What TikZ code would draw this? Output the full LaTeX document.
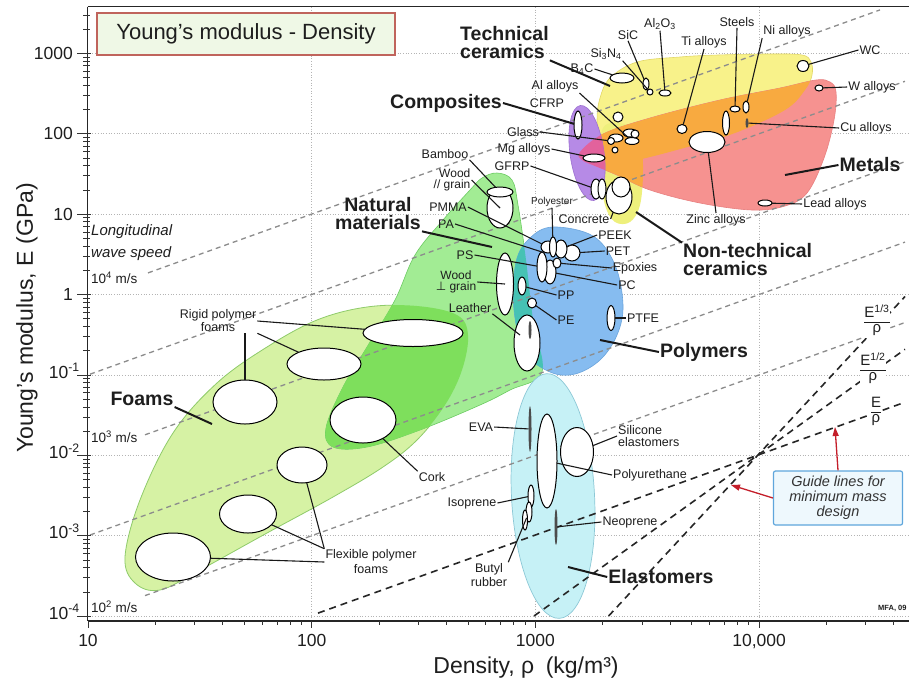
\documentclass[tikz,border=0pt]{standalone}
\usepackage{fontspec}
\setmainfont{Liberation Sans}
\newfontfamily\dejavu{DejaVu Sans}
\usetikzlibrary{shapes.geometric,arrows.meta,calc}
\renewcommand{\arraystretch}{1.0}
\definecolor{foamc}{HTML}{D6F2A4}
\definecolor{foaml}{HTML}{8FCB6A}
\definecolor{natc}{HTML}{A2EC94}
\definecolor{natl}{HTML}{6CCB62}
\definecolor{natover}{HTML}{7EDF5C}
\definecolor{polyc}{HTML}{86BCF0}
\definecolor{polyl}{HTML}{6AA4DC}
\definecolor{tealc}{HTML}{46C2B4}
\definecolor{elac}{HTML}{C6F1F6}
\definecolor{elal}{HTML}{8CC8D6}
\definecolor{cerc}{HTML}{F8F28A}
\definecolor{cerl}{HTML}{E2D868}
\definecolor{ntc}{HTML}{EEF07C}
\definecolor{metc}{HTML}{F69290}
\definecolor{metl}{HTML}{E88080}
\definecolor{orc}{HTML}{F8AA40}
\definecolor{compc}{HTML}{B68AE6}
\definecolor{compl}{HTML}{9C70D0}
\definecolor{pinkc}{HTML}{E2629C}
\definecolor{gridc}{HTML}{B4B4B4}
\definecolor{wavec}{HTML}{8C8C8C}
\definecolor{redarr}{HTML}{C41E2A}
\definecolor{boxl}{HTML}{5FA6DC}
\definecolor{boxf}{HTML}{EEF8FD}
\definecolor{titlel}{HTML}{C0645C}
\definecolor{titlef}{HTML}{EFF8E6}
\definecolor{txt}{HTML}{1E1E1E}
\newcommand{\mybub}[5][]{\node[bubst,minimum width={2*#4},minimum height={2*#5},#1] (#2) at (#3) {};}
\def\foamP{plot[smooth cycle,tension=0.6] coordinates {(125,557) (140,500) (173,433) (217,383) (267,347) (317,320) (367,307) (417,306) (457,315) (468,335) (462,370) (445,405) (417,440) (383,467) (333,497) (267,533) (200,570) (160,590) (135,583)}}
\def\natP{plot[smooth cycle,tension=0.6] coordinates {(497,173) (512,180) (518,205) (526,260) (533,320) (542,372) (510,390) (480,405) (420,430) (367,447) (333,447) (326,428) (343,387) (367,347) (395,300) (415,255) (443,220) (470,190) (482,178)}}
\def\polyP{plot[smooth cycle,tension=0.6] coordinates {(553,227) (593,236) (615,265) (623,305) (617,335) (600,360) (575,374) (550,372) (525,352) (514,310) (516,262) (530,238)}}
\def\cerP{plot[smooth cycle,tension=0.6] coordinates {(600,98) (610,78) (637,62) (680,57) (718,55) (770,54) (802,55) (811,62) (812,75) (805,90) (785,110) (735,133) (684,148) (637,160) (610,163) (600,145) (597,120)}}
\def\metP{plot[smooth cycle,tension=0.6] coordinates {(580,152) (603,134) (650,118) (720,100) (780,88) (816,80) (830,82) (836,92) (834,120) (824,158) (807,193) (785,206) (752,210) (700,203) (650,190) (617,175) (595,166) (582,160)}}
\def\ntP{plot[smooth cycle,tension=0.6] coordinates {(603,128) (625,124) (640,135) (643,170) (640,205) (630,222) (615,222) (605,205) (600,170)}}
\begin{document}
\begin{tikzpicture}[x=1pt,y=-1pt,
  gridst/.style={draw=gridc,line width=0.7pt,dotted},
  wavest/.style={draw=wavec,line width=1.3pt,dash pattern=on 5pt off 4pt},
  guidest/.style={draw=black!85,line width=1.6pt,dash pattern=on 7pt off 5pt},
  bubst/.style={ellipse,draw=black,fill=white,line width=1pt,inner sep=0pt,outer sep=0pt},
  barst/.style={draw=none,fill=black!70},
  ldr/.style={draw=black!90,line width=1.1pt},
  fldr/.style={draw=black!90,line width=2pt},
  sl/.style={font=\fontsize{12.5}{12}\selectfont,text=txt,inner sep=1pt},
  fam/.style={font=\bfseries\fontsize{19.5}{18}\selectfont,text=txt,inner sep=1pt},
  tl/.style={font=\fontsize{17.5}{18}\selectfont,text=txt,inner sep=0pt},
  wl/.style={font=\fontsize{13.5}{14}\selectfont,text=txt,inner sep=0pt},
  tickst/.style={draw=black!80,line width=0.8pt},
  axisst/.style={draw=black!85,line width=1.5pt},
  fracst/.style={fill=white,inner sep=0.5pt,text=txt,font=\fontsize{15}{15}\selectfont},
  redarrow/.style={draw=redarr,line width=1.3pt,-{Triangle[length=9pt,width=6pt]}}]
\useasboundingbox (0,0) rectangle (909,683);
\fill[white] (0,0) rectangle (909,683);
% grid
\foreach \gx in {311.7,535.4,759.1} \draw[gridst] (\gx,7) -- (\gx,621);
\foreach \gy in {53.3,133.7,214.1,294.5,374.9,455.3,535.7,616.1} \draw[gridst] (87,\gy) -- (909,\gy);
% regions
\filldraw[fill=foamc,draw=foaml,line width=0.8pt] \foamP;
\filldraw[fill=natc,draw=natl,line width=0.6pt] \natP;
\begin{scope}\clip \foamP; \fill[natover] \natP; \end{scope}
\filldraw[fill=polyc,draw=polyl,line width=0.6pt] \polyP;
\begin{scope}\clip \natP; \fill[tealc] \polyP; \end{scope}
\filldraw[fill=elac,draw=elal,line width=0.7pt,rotate around={3:(553,496)}] (553,496) ellipse [x radius=41.5pt,y radius=122.5pt];
\filldraw[fill=cerc,draw=cerl,line width=0.6pt] \cerP;
\fill[ntc] \ntP;
\filldraw[fill=metc,draw=metl,line width=0.6pt] \metP;
\begin{scope}\clip \metP; \fill[orc] \cerP; \fill[orc] \ntP; \end{scope}
\begin{scope}[rotate around={8:(587,153)}]
  \filldraw[fill=compc,draw=compl,line width=0.6pt] (587,153) ellipse [x radius=17pt,y radius=48pt];
\end{scope}
\begin{scope}\clip \metP;
  \begin{scope}[rotate around={8:(587,153)}]\fill[pinkc] (587,153) ellipse [x radius=17pt,y radius=48pt];\end{scope}
\end{scope}
% wave speed lines
\draw[wavest] (148,272.9) -- (880,9.9);
\draw[wavest] (90,374.2) -- (905,81.3);
\draw[wavest] (145,434.8) -- (905,161.7);
\draw[wavest] (90,535.0) -- (905,242.1);
\draw[wavest] (145,595.6) -- (905,322.5);
% guide lines
\draw[guidest] (318,613.1) -- (905,402.2);
\draw[guidest] (534,616) -- (905,349.3);
\draw[guidest] (608.6,616) -- (905,296.5);
% ---------- Foams
\mybub{bF1}{173,557}{37.5}{24}
\mybub{bF2}{248,514}{28.5}{19}
\mybub{bF3}{302,465}{25}{18}
\mybub{bR1}{245,402}{32}{22}
\mybub{bR2}{324,364}{37}{16}
\mybub{bR3}{413,333}{50}{13.5}
\mybub{bCork}{363,420}{33}{23}
\node[sl,align=center,font=\fontsize{12.5}{13}\selectfont] (lRigid) at (218,321) {Rigid polymer\\foams};
\node[sl,align=center,font=\fontsize{12.5}{15}\selectfont] (lFlex) at (371,562) {Flexible polymer\\foams};
\node[sl] (lCork) at (432,477) {Cork};
\node[fam] (lFoams) at (142,399) {Foams};
\coordinate (cFoam) at (212,424);
\draw[ldr] (lRigid.east) -- (bR3);
\draw[ldr] (lRigid.south east) -- (bR2);
\draw[ldr] (lRigid.south -| bR1) -- (bR1);
\draw[ldr] (lFlex.west) -- (bF1);
\draw[ldr] (lFlex.north west) -- (bF2);
\draw[ldr] (lFlex.north west) -- (bF3);
\draw[ldr] (lCork.north west) -- (bCork);
\draw[fldr] (lFoams.south east) -- (cFoam);
% ---------- Natural
\mybub{bWoodPar}{500,208}{13}{20}
\mybub{bBamboo}{500,192}{13}{5}
\mybub{bWoodPerp}{505,284}{8.5}{31}
\mybub{bLeather}{527,343}{13}{28}
\mybub[barst]{barLeather}{530,330}{1.5}{9}
\node[sl] (lBamboo) at (445,154) {Bamboo};
\node[sl,align=right,font=\fontsize{12}{11}\selectfont] (lWood) at (452,180) {Wood\\// grain};
\node[sl,align=center,font=\fontsize{12}{11}\selectfont] (lWoodP) at (456,282) {Wood\\{\dejavu ⊥} grain};
\node[sl] (lLeather) at (470,308) {Leather};
\node[fam,align=center] (lNat) at (378,214) {Natural\\materials};
\coordinate (cLeather) at (520,335);
\coordinate (cNat) at (492,247);
\draw[ldr] (lBamboo.south east) -- (bBamboo);
\draw[ldr] (lWood.east) -- (bWoodPar.center);
\draw[ldr] (lWoodP.east) -- (bWoodPerp.center);
\draw[ldr] (lLeather.south east) -- (cLeather);
\draw[fldr] (lNat.south east) -- (cNat);
% ---------- Polymers
\mybub{pD}{572,253}{8}{8}
\mybub{pC}{561,249}{6}{9}
\mybub{pA}{548,247}{7}{6}
\mybub{pB}{553,247}{3.5}{10}
\mybub{pF}{550,272}{6}{12}
\mybub{pE}{542,267}{5}{15}
\mybub{pG}{557,263}{4}{5}
\mybub{bPP}{522,286}{4}{9}
\mybub{bPE}{532,303}{4.5}{5}
\mybub{bPTFE}{611,318}{4}{12.5}
\node[sl,font=\fontsize{10}{10}\selectfont] (lPolyester) at (552,202) {Polyester};
\node[sl] (lPMMA) at (448,207) {PMMA};
\node[sl] (lPA) at (446,224) {PA};
\node[sl] (lPS) at (465,255) {PS};
\node[sl] (lConcrete) at (584,219) {Concrete};
\node[sl] (lPEEK) at (615,235) {PEEK};
\node[sl] (lPET) at (618,251) {PET};
\node[sl] (lEpoxies) at (635,268) {Epoxies};
\node[sl] (lPC) at (627,285) {PC};
\node[sl] (lPP) at (566,295) {PP};
\node[sl] (lPE) at (566,320) {PE};
\node[sl] (lPTFE) at (643,318) {PTFE};
\node[fam] (lPolymers) at (704,352) {Polymers};
\coordinate (cPoly) at (600,340);
\draw[ldr] (lPMMA.east) -- (pA);
\draw[ldr] (lPA.east) -- (pE.north);
\draw[ldr] (lPS.east) -- (pE);
\draw[ldr] (lPolyester.south) -- (pB);
\draw[ldr] (lPEEK.west) -- (pC);
\draw[ldr] (lPET.west) -- (pD);
\draw[ldr] (lEpoxies.west) -- (pG);
\draw[ldr] (lPC.west) -- (pF);
\draw[ldr] (lPP.west) -- (bPP);
\draw[ldr] (lPE.west) -- (bPE);
\draw[ldr] (lPTFE.west) -- (bPTFE);
\draw[fldr] (lPolymers.west) -- (cPoly);
% ---------- Elastomers
\mybub[barst]{barEVA}{530,429}{1.5}{23}
\mybub{bPU}{547,461}{10}{47}
\mybub{bSil}{577,452}{16.5}{24.5}
\mybub{bIso}{531,496}{3}{11}
\mybub{bBut1}{529,512}{3}{10}
\mybub{bBut2}{525,520}{2.5}{10}
\mybub[barst]{barNeo}{556,527}{1.5}{18}
\node[sl] (lEVA) at (481,427) {EVA};
\node[sl,align=left,anchor=west,font=\fontsize{12.5}{12.5}\selectfont] (lSil) at (617,436) {Silicone\\elastomers};
\node[sl] (lPU) at (650,475) {Polyurethane};
\node[sl] (lIso) at (472,503) {Isoprene};
\node[sl,align=center,font=\fontsize{12.5}{14}\selectfont] (lButyl) at (489,575) {Butyl\\rubber};
\node[sl] (lNeo) at (630,522) {Neoprene};
\node[fam] (lElast) at (661,577) {Elastomers};
\coordinate (cElast) at (568,567);
\draw[ldr] (lEVA.east) -- (barEVA);
\draw[ldr] (lSil.west) -- (bSil);
\draw[ldr] (lPU.west) -- (bPU);
\draw[ldr] (lIso.east) -- (bIso);
\draw[ldr] (lButyl.north east) -- (bBut1);
\draw[ldr] (lNeo.west) -- (barNeo);
\draw[fldr] (lElast.west) -- (cElast);
% ---------- Ceramics, metals, composites
\mybub{bB4C}{622,78}{12}{5}
\mybub{bSiC}{646,84}{3}{6}
\mybub{bSi3N4}{650,92}{3}{3}
\mybub{bAl2O3}{665,93}{6}{3}
\mybub{bCer1}{618,117}{5}{5}
\mybub{bTi}{682,129}{5}{4.5}
\mybub{bSteels}{735,109}{5}{3}
\mybub{bNi}{746,107}{3}{6}
\mybub{bZinc2}{726,123}{3.5}{12}
\mybub{bZinc}{707,142}{18}{10.5}
\mybub[barst]{barCu}{747,123}{1.5}{5}
\mybub{bWC}{803,66}{6}{5.5}
\mybub{bW}{819,88}{4}{3}
\mybub{bLead}{765,203}{7}{3}
\mybub{bCFRP}{578,125}{4}{14}
\mybub{aA}{616,138}{7}{4}
\mybub{aB}{630,133}{7}{4}
\mybub{aC}{632,141}{7}{3.5}
\mybub{aD}{635,134}{4}{4}
\mybub{bGlass}{611,141}{3.5}{3.5}
\mybub{bSm}{615,150}{3}{3}
\mybub{bMg}{594,158}{11}{4}
\mybub{bGFRP1}{596,189}{5}{10}
\mybub{bGFRP2}{602,189}{4}{10}
\mybub{bNT}{619,197}{13}{17}
\mybub{bNT2}{621,187}{9}{10}
\node[fam,align=left,anchor=west] (lTech) at (459,43) {Technical\\ceramics};
\node[sl] (lB4C) at (582,69) {B\textsubscript{4}C};
\node[sl] (lSi3N4) at (606,54) {Si\textsubscript{3}N\textsubscript{4}};
\node[sl] (lSiC) at (628,35) {SiC};
\node[sl] (lAl2O3) at (660,24) {Al\textsubscript{2}O\textsubscript{3}};
\node[sl] (lTi) at (704,42) {Ti alloys};
\node[sl] (lSteels) at (737,22) {Steels};
\node[sl] (lNi) at (787,31) {Ni alloys};
\node[sl] (lWC) at (870,50) {WC};
\node[sl] (lW) at (872,87) {W alloys};
\node[sl] (lCu) at (866,128) {Cu alloys};
\node[sl] (lZinc) at (716,220) {Zinc alloys};
\node[sl] (lLead) at (835,204) {Lead alloys};
\node[fam] (lMetals) at (870,165) {Metals};
\node[fam] (lComp) at (446,103) {Composites};
\node[sl] (lAl) at (555,86) {Al alloys};
\node[sl] (lCFRP) at (547,103) {CFRP};
\node[sl] (lGlass) at (523,132) {Glass};
\node[sl] (lMg) at (524,149) {Mg alloys};
\node[sl] (lGFRP) at (512,166) {GFRP};
\node[fam,align=left,anchor=west] (lNT) at (682,260) {Non-technical\\ceramics};
\coordinate (cTech) at (610,86);
\coordinate (cMet) at (785,175);
\coordinate (cNT) at (636,212);
\draw[fldr] (lTech.south east) -- (cTech);
\draw[ldr] (lB4C.east) -- (bB4C);
\draw[ldr] (lSi3N4.south east) -- (bSi3N4);
\draw[ldr] (lSiC.south) -- (bSiC);
\draw[ldr] (lAl2O3.south) -- (bAl2O3);
\draw[ldr] (lTi.south) -- (bTi);
\draw[ldr] (lSteels.south) -- (bSteels);
\draw[ldr] (lNi.south west) -- (bNi);
\draw[ldr] (lWC.west) -- (bWC);
\draw[ldr] (lW.west) -- (bW);
\draw[ldr] (lCu.west) -- (barCu);
\draw[ldr] (lZinc.north) -- (bZinc);
\draw[ldr] (lLead.west) -- (bLead);
\draw[fldr] (lMetals.west) -- (cMet);
\draw[fldr] (lComp.east) -- (bCFRP);
\draw[ldr] (lAl.south east) -- (aC);
\draw[ldr] (lGlass.east) -- (bGlass);
\draw[ldr] (lMg.east) -- (bMg);
\draw[ldr] (lGFRP.east) -- (bGFRP1);
\draw[ldr] (lConcrete.east) -- (bNT);
\draw[fldr] (lNT.north west) -- (cNT);
% ---------- guide box and fractions
\node[draw=boxl,fill=boxf,line width=1.2pt,rounded corners=2pt,minimum width=129pt,minimum height=54pt,inner sep=1pt,align=center,text=black!80,font=\itshape\fontsize{14.5}{15}\selectfont] (gbox) at (838,498) {Guide lines for\\minimum mass\\design};
\coordinate (cArr1) at (835,427);
\coordinate (cArr2) at (731,485);
\draw[redarrow] (gbox.north) -- (cArr1);
\draw[redarrow] (gbox.west) -- (cArr2);
\node[fracst] (f3) at (877,321) {\begin{tabular}{@{}c@{}}E\textsuperscript{1/3}\\\hline ρ\end{tabular}};
\node[fracst] (f2) at (873,369) {\begin{tabular}{@{}c@{}}E\textsuperscript{1/2}\\\hline ρ\end{tabular}};
\node[fracst] (f1) at (876,412) {\begin{tabular}{@{}c@{}}E\\\hline ρ\end{tabular}};
% ---------- wave speed labels
\node[anchor=west,align=left,text=txt,inner sep=0pt,font=\itshape\fontsize{15}{22}\selectfont] (lLong) at (91,243) {Longitudinal\\wave speed};
\node[wl,anchor=west] (w4) at (91,278) {10\textsuperscript{4} m/s};
\node[wl,anchor=west] (w3) at (91,437) {10\textsuperscript{3} m/s};
\node[wl,anchor=west] (w2) at (91,607) {10\textsuperscript{2} m/s};
\node[anchor=west,inner sep=0pt,text=txt,font=\bfseries\fontsize{7.5}{8}\selectfont] (mfa) at (878,608) {MFA, 09};
% ---------- axes
\draw[axisst] (87.5,6.5) -- (909,6.5);
\draw[axisst] (87.5,6.5) -- (87.5,621);
\draw[axisst] (87.5,621) -- (909,621);
\foreach \d in {-4,...,3}{
  \pgfmathsetmacro{\yy}{53.3+80.4*(3-\d)}
  \draw[tickst] (77,\yy) -- (91,\yy);
  \foreach \m in {2,...,9}{
    \pgfmathsetmacro{\ym}{53.3+80.4*(3-\d-log10(\m))}
    \ifdim \ym pt>9pt \draw[tickst] (83,\ym) -- (90,\ym); \fi
  }
}
\foreach \d in {0,...,3}{
  \pgfmathsetmacro{\xx}{88+223.7*\d}
  \draw[tickst] (\xx,621) -- (\xx,628);
  \foreach \m in {2,...,9}{
    \pgfmathsetmacro{\xm}{88+223.7*(\d+log10(\m))}
    \ifdim \xm pt<906pt \draw[tickst] (\xm,621) -- (\xm,625); \fi
  }
}
\node[tl,anchor=base east] (y3) at (73,59.3) {1000};
\node[tl,anchor=base east] (y2) at (73,139.7) {100};
\node[tl,anchor=base east] (y1) at (73,220.1) {10};
\node[tl,anchor=base east] (y0) at (73,300.5) {1};
\node[tl,anchor=base east] (ym1) at (80,378) {10\textsuperscript{-1}};
\node[tl,anchor=base east] (ym2) at (80,458.4) {10\textsuperscript{-2}};
\node[tl,anchor=base east] (ym3) at (80,538.8) {10\textsuperscript{-3}};
\node[tl,anchor=base east] (ym4) at (80,619.2) {10\textsuperscript{-4}};
\node[tl,anchor=base] (x1) at (88,646) {10};
\node[tl,anchor=base] (x2) at (311.7,646) {100};
\node[tl,anchor=base] (x3) at (535.4,646) {1000};
\node[tl,anchor=base] (x4) at (759.1,646) {10,000};
\node[rotate=90,text=txt,inner sep=0pt,font=\fontsize{23}{24}\selectfont] (ytitle) at (27,318) {Young's modulus, E (GPa)};
\node[text=txt,inner sep=0pt,font=\fontsize{23}{24}\selectfont] (xtitle) at (526,668) {Density, ρ\hspace{0.5em}(kg/m³)};
\node[draw=titlel,fill=titlef,line width=1.2pt,minimum width=298pt,minimum height=42pt,inner sep=0pt,text=txt,font=\fontsize{22}{24}\selectfont] (title) at (246,34) {Young's modulus - Density};
\end{tikzpicture}
\end{document}
